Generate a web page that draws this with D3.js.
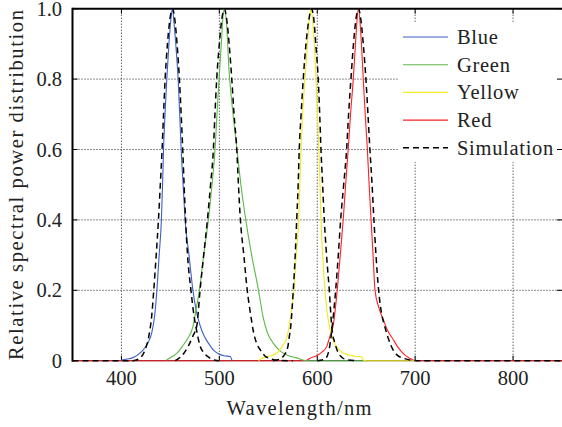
<!DOCTYPE html>
<html>
<head>
<meta charset="utf-8">
<script src="https://cdn.jsdelivr.net/npm/d3@7"></script>
<style>
	html, body { margin: 0; padding: 0; background: #fff; }
	svg { display: block; }
	text { font-family: "Liberation Serif", "Times New Roman", serif; fill: #222; }
</style>
</head>
<body>
<svg width="562" height="427"></svg>
<script>
// measured spectra, [wavelength nm, relative power]
var blue = [[400,0.002],[406,0.005],[411,0.008],[416,0.015],[422,0.03],[427,0.05],[431,0.08],[434,0.13],[436.2,0.2],[438.5,0.3],[440.8,0.4],[442,0.5],[443,0.6],[444.5,0.7],[446.3,0.8],[448.5,0.9],[450.5,0.97],[452,1],[454,0.95],[456,0.88],[457.9,0.8],[459.5,0.7],[461,0.6],[463,0.5],[465,0.4],[469,0.3],[473,0.2],[476.5,0.14],[480.3,0.1],[484.5,0.07],[488.8,0.05],[494,0.03],[499,0.02],[505,0.014],[511,0.012],[513,0]];

var green = [[446,0.002],[452,0.012],[457,0.022],[462,0.04],[467,0.06],[473,0.097],[476.5,0.15],[479.6,0.2],[484,0.3],[488.8,0.4],[492.5,0.5],[495.6,0.6],[497.6,0.7],[499.7,0.8],[502,0.9],[503.5,0.97],[505,1],[507,0.97],[510,0.82],[514,0.7],[518,0.6],[522,0.5],[527,0.4],[533,0.3],[540,0.2],[545,0.12],[549,0.08],[555,0.05],[562,0.028],[570,0.015],[579,0.008],[585,0.002],[590,0],[650,0]];

var yellow = [[540,0],[543,0.006],[550,0.012],[558.6,0.021],[564,0.04],[568.8,0.065],[572,0.11],[574.5,0.16],[576.2,0.2],[578.5,0.3],[581,0.4],[582.2,0.5],[583.4,0.6],[585,0.7],[587.4,0.8],[590,0.9],[592,0.97],[593.6,1],[595.5,0.96],[597,0.9],[598.7,0.8],[600.2,0.7],[601.7,0.6],[602.8,0.5],[603.8,0.4],[605.5,0.3],[607.9,0.2],[610,0.14],[613,0.09],[616,0.06],[619.8,0.04],[625,0.025],[630,0.018],[633.4,0.016],[640,0.012],[645.3,0.011],[647,0.002],[650,0],[700,0]];

var red = [[350,0],[588,0],[592.6,0.007],[600,0.015],[605,0.025],[609.6,0.04],[613,0.07],[616.3,0.1],[620.4,0.2],[623.5,0.3],[626.5,0.4],[629,0.5],[631.6,0.6],[634,0.7],[636.8,0.8],[639.5,0.92],[642,1],[644.5,0.93],[647,0.8],[649,0.7],[651.2,0.6],[653,0.5],[655,0.4],[657,0.3],[659,0.2],[663,0.15],[667.4,0.117],[672,0.085],[677.6,0.06],[682,0.04],[686,0.026],[690,0.015],[694.6,0.007],[700,0],[850,0]];

// simulated spectra
var simBlue = [[350,0],[410,0],[415,0.002],[420,0.01],[424,0.03],[428,0.07],[431,0.13],[433,0.2],[435.5,0.3],[437.8,0.4],[439.7,0.5],[441.5,0.6],[443,0.7],[444.6,0.8],[447,0.9],[449.5,0.97],[452,1],[454.5,0.97],[456.8,0.9],[459.2,0.8],[461,0.7],[462.6,0.6],[464,0.5],[465.5,0.4],[467.5,0.3],[471,0.2],[474,0.13],[476.5,0.09],[480,0.045],[485,0.02],[490,0.008],[495,0.002],[500,0]];

var simGreen = [[455,0],[460,0.01],[464,0.022],[468,0.04],[473,0.07],[477,0.1],[480.3,0.2],[484,0.3],[487.8,0.4],[491,0.5],[493.9,0.6],[495.5,0.7],[497.3,0.8],[500,0.9],[502.5,0.97],[505,1],[507.5,0.97],[510,0.9],[512.7,0.8],[515,0.7],[517.8,0.6],[519.5,0.5],[521.5,0.4],[525,0.3],[528.5,0.2],[532,0.13],[535,0.08],[538,0.05],[542,0.03],[546,0.015],[552,0.006],[560,0.001],[575,0]];

var simYellow = [[555,0],[562,0.005],[566,0.015],[570,0.04],[571,0.06],[573,0.1],[575.5,0.2],[577.5,0.3],[579,0.4],[580.5,0.5],[581.6,0.6],[583.5,0.7],[585.7,0.8],[588.5,0.9],[591.5,0.97],[594,1],[596.5,0.97],[598.5,0.9],[601,0.8],[602.5,0.7],[603.8,0.6],[605.5,0.5],[607.2,0.4],[609.5,0.3],[612.3,0.2],[615,0.09],[618,0.05],[621,0.025],[625,0.01],[630,0.003],[640,0]];

var simRed = [[600,0],[608,0.005],[612,0.03],[615,0.09],[618.8,0.2],[621.5,0.3],[623.9,0.4],[627,0.5],[630,0.6],[632,0.7],[634.4,0.8],[637,0.9],[639.5,0.97],[642,1],[644.5,0.97],[647,0.9],[649.7,0.8],[651.8,0.7],[653.8,0.6],[656,0.5],[657.9,0.4],[660,0.3],[662.7,0.2],[666,0.13],[669,0.097],[673,0.06],[677.6,0.03],[682,0.015],[688,0.007],[695,0.002],[705,0],[850,0]];

var xTicks = [400, 500, 600, 700, 800],
	yTicks = [0, 0.2, 0.4, 0.6, 0.8, 1.0],
	yTickLabels = ['0', '0.2', '0.4', '0.6', '0.8', '1.0'],
	legendNames = ['Blue', 'Green', 'Yellow', 'Red', 'Simulation'];

(function () {
	var svg = d3.select('svg'),
		left = 72.5, right = 562, top = 8.7, bottom = 360.7,
		fs = 20.5,

		x = d3.scaleLinear().domain([350, 850]).range([left, right]),
		y = d3.scaleLinear().domain([0, 1]).range([bottom, top]),

		colors = {Blue: '#3b5fc4', Green: '#5cb947', Yellow: '#f2ea1c', Red: '#fb1f24'},
		dash = '6,4',

		line = d3.line()
			.x(function (d) { return x(d[0]); })
			.y(function (d) { return y(d[1]); })
			.curve(d3.curveMonotoneX);

	// grid
	svg.append('g').selectAll('line')
		.data(xTicks)
		.enter().append('line')
		.attr('x1', function (d) { return x(d); }).attr('x2', function (d) { return x(d); })
		.attr('y1', top).attr('y2', bottom)
		.attr('stroke', '#000').attr('stroke-width', 0.9).attr('stroke-dasharray', '1,2');

	svg.append('g').selectAll('line')
		.data([0.2, 0.4, 0.6, 0.8])
		.enter().append('line')
		.attr('x1', left).attr('x2', right)
		.attr('y1', function (d) { return y(d); }).attr('y2', function (d) { return y(d); })
		.attr('stroke', '#000').attr('stroke-width', 0.9).attr('stroke-dasharray', '1,2');

	// legend background hides the grid behind it
	svg.append('rect')
		.attr('x', 399).attr('y', 23).attr('width', 163).attr('height', 139)
		.attr('fill', '#fff');

	// axes frame
	svg.append('line').attr('x1', left).attr('x2', right).attr('y1', bottom).attr('y2', bottom)
		.attr('stroke', '#000').attr('stroke-width', 1);
	svg.append('line').attr('x1', left).attr('x2', right).attr('y1', top).attr('y2', top)
		.attr('stroke', '#000').attr('stroke-width', 2);
	svg.append('line').attr('x1', left).attr('x2', left).attr('y1', top - 1).attr('y2', bottom + 1)
		.attr('stroke', '#000').attr('stroke-width', 2);

	// inward ticks
	xTicks.forEach(function (t) {
		svg.append('line').attr('x1', x(t)).attr('x2', x(t)).attr('y1', bottom).attr('y2', bottom - 5)
			.attr('stroke', '#000');
		svg.append('line').attr('x1', x(t)).attr('x2', x(t)).attr('y1', top).attr('y2', top + 5)
			.attr('stroke', '#000');
	});
	yTicks.forEach(function (t) {
		svg.append('line').attr('x1', left).attr('x2', left + 5).attr('y1', y(t)).attr('y2', y(t))
			.attr('stroke', '#000');
		svg.append('line').attr('x1', right).attr('x2', right - 5).attr('y1', y(t)).attr('y2', y(t))
			.attr('stroke', '#000');
	});

	// measured curves, red underneath
	[['Red', red], ['Blue', blue], ['Green', green], ['Yellow', yellow]].forEach(function (s) {
		svg.append('path')
			.datum(s[1])
			.attr('d', line)
			.attr('fill', 'none')
			.attr('stroke', colors[s[0]])
			.attr('stroke-width', 1.1);
	});

	// simulation
	[simBlue, simGreen, simYellow, simRed].forEach(function (s) {
		svg.append('path')
			.datum(s)
			.attr('d', line)
			.attr('fill', 'none')
			.attr('stroke', '#000')
			.attr('stroke-width', 1.5)
			.attr('stroke-dasharray', dash);
	});

	// tick labels
	svg.append('g').selectAll('text')
		.data(xTicks)
		.enter().append('text')
		.attr('x', function (d) { return x(d); })
		.attr('y', 385)
		.attr('text-anchor', 'middle')
		.attr('font-size', fs)
		.text(function (d) { return d; });

	svg.append('g').selectAll('text')
		.data(yTicks)
		.enter().append('text')
		.attr('x', 62)
		.attr('y', function (d) { return y(d) + 7; })
		.attr('text-anchor', 'end')
		.attr('font-size', fs)
		.text(function (d, i) { return yTickLabels[i]; });

	// axis titles
	svg.append('text')
		.attr('x', 226.5).attr('y', 415)
		.attr('font-size', fs)
		.attr('textLength', 145)
		.attr('lengthAdjust', 'spacing')
		.text('Wavelength/nm');

	svg.append('text')
		.attr('transform', 'translate(23,360) rotate(-90)')
		.attr('font-size', fs)
		.attr('textLength', 350)
		.attr('lengthAdjust', 'spacing')
		.text('Relative spectral power distribution');

	// legend
	legendNames.forEach(function (n, i) {
		var ly = 37 + i * 27.7;
		svg.append('line')
			.attr('x1', 403).attr('x2', 448).attr('y1', ly).attr('y2', ly)
			.attr('stroke', n == 'Simulation' ? '#000' : colors[n])
			.attr('stroke-width', n == 'Simulation' ? 1.5 : 1.1)
			.attr('stroke-dasharray', n == 'Simulation' ? dash : null);
		svg.append('text')
			.attr('x', 457).attr('y', ly + 7)
			.attr('font-size', fs)
			.attr('letter-spacing', 0.7)
			.text(n);
	});
})();
</script>
</body>
</html>
